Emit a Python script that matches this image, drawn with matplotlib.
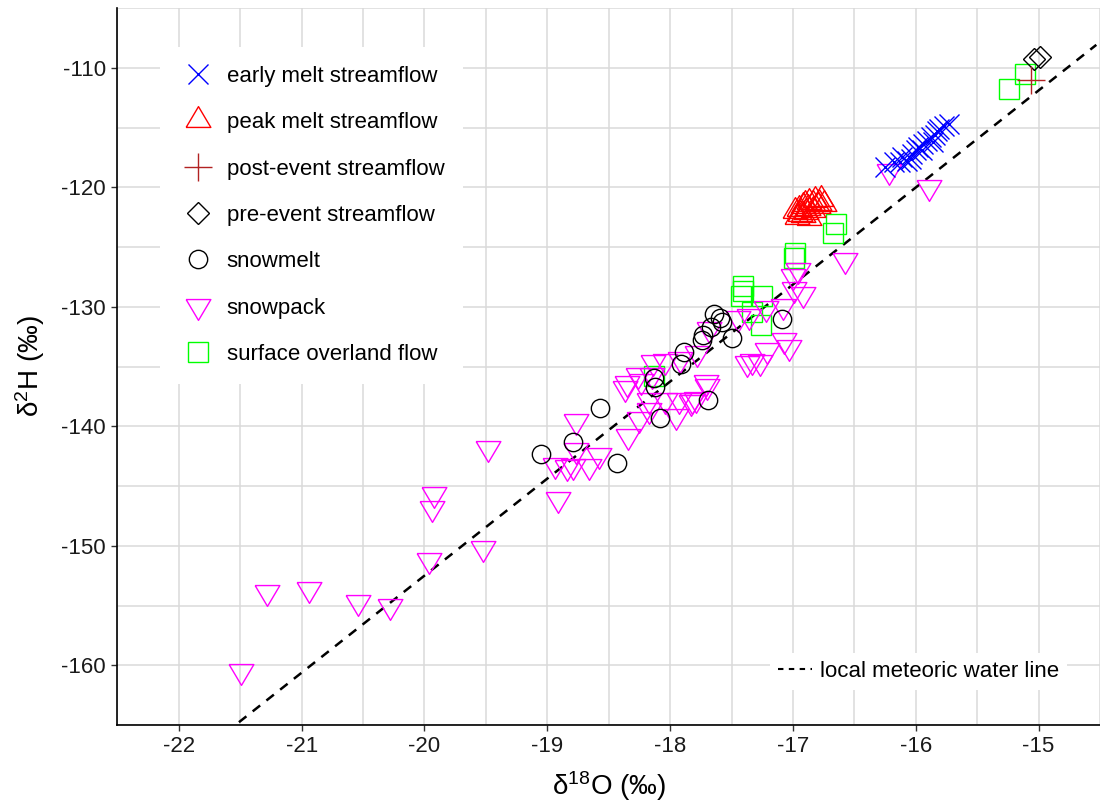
import matplotlib
matplotlib.use("Agg")
import matplotlib.pyplot as plt
from matplotlib.lines import Line2D
import numpy as np

plt.rcParams['font.family'] = ['Liberation Sans', 'DejaVu Sans']
plt.rcParams['mathtext.fontset'] = 'custom'
plt.rcParams['mathtext.rm'] = 'Liberation Sans'
plt.rcParams['mathtext.it'] = 'Liberation Sans:italic'
plt.rcParams['axes.unicode_minus'] = False

# ---- isotope data (d18O, d2H), permil ----
snowpack_x = [-15.89, -16.22, -16.58, -16.96, -17.00, -16.99, -16.92, -17.08, -17.22,
              -17.36, -17.45, -17.68, -17.07, -17.03, -17.21, -17.33, -17.37, -17.27,
              -17.71, -17.92, -17.78, -18.04, -18.14, -18.26, -18.15, -18.35, -18.24,
              -18.37, -17.70, -18.17, -18.04, -17.93, -17.82, -17.79, -18.17, -17.95,
              -17.83, -18.25, -18.34, -18.77, -18.94, -18.84, -18.79, -18.77, -18.66,
              -18.58, -18.91, -19.48, -19.52, -19.94, -19.92, -19.96, -20.28, -20.54,
              -20.94, -21.28, -21.49]
snowpack_y = [-120.0, -118.6, -126.1, -126.9, -127.4, -128.5, -128.9, -129.9, -130.1,
              -130.8, -130.9, -131.9, -132.8, -133.4, -133.6, -134.5, -134.7, -134.6,
              -136.3, -134.4, -133.9, -134.5, -134.6, -135.7, -135.75, -136.4, -136.2,
              -136.8, -136.6, -137.8, -137.8, -137.8, -137.8, -137.7, -138.6, -139.1,
              -138.0, -139.4, -140.8, -139.6, -143.2, -143.4, -143.3, -142.0, -143.3,
              -142.4, -146.1, -141.8, -150.2, -146.8, -145.7, -151.2, -155.0, -154.7,
              -153.6, -153.9, -160.45]

snowmelt_x = [-19.05, -18.79, -18.57, -18.43, -18.08, -18.13, -18.12, -17.91, -17.89,
              -17.69, -17.74, -17.73, -17.67, -17.58, -17.59, -17.64, -17.50, -17.09]
snowmelt_y = [-142.3, -141.3, -138.5, -143.1, -139.3, -136.0, -136.7, -134.8, -133.8,
              -137.8, -132.8, -132.4, -131.7, -131.3, -130.9, -130.6, -132.6, -131.0]

overland_x = [-18.13, -17.41, -17.41, -17.42, -17.25, -17.33, -17.26, -16.98, -16.99,
              -16.65, -16.67, -15.11, -15.24]
overland_y = [-135.8, -128.3, -128.7, -129.1, -129.1, -130.4, -131.5, -125.5, -125.9,
              -123.1, -123.8, -110.5, -111.8]

early_x = [-16.25, -16.18, -16.11, -16.07, -16.03, -16.00, -15.98, -15.94, -15.91,
           -15.88, -15.84, -15.81, -15.77, -15.73, -16.13, -16.04, -15.95, -15.86, -15.83]
early_y = [-118.3, -117.9, -117.5, -117.8, -117.2, -116.9, -116.6, -116.4, -116.1,
           -115.8, -115.6, -115.1, -114.9, -114.7, -117.9, -117.6, -116.9, -116.2, -115.3]

peak_x = [-16.98, -16.95, -16.92, -16.90, -16.88, -16.87, -16.84, -16.82, -16.80,
          -16.79, -16.77, -16.94, -16.89, -16.84, -16.75, -16.97, -16.87, -16.92]
peak_y = [-122.0, -121.8, -121.6, -121.4, -121.7, -121.2, -121.4, -121.1, -121.6,
          -121.3, -121.0, -122.2, -122.1, -121.9, -121.4, -122.5, -122.6, -122.3]

pre_x = [-15.04, -14.99]
pre_y = [-109.3, -109.1]

post_x = [-15.06]
post_y = [-111.0]

# local meteoric water line: d2H = slope * d18O + intercept
lmwl_slope = 8.12
lmwl_intercept = 9.9

x_ticks = [-22, -21, -20, -19, -18, -17, -16, -15]
y_ticks = [-160, -150, -140, -130, -120, -110]

# triangles centred on their centroid
tri_down = [(-0.89, 0.5), (0.89, 0.5), (0.0, -1.0), (-0.89, 0.5)]
tri_up = [(-0.89, -0.5), (0.89, -0.5), (0.0, 1.0), (-0.89, -0.5)]

MEW = 1.0
styles = [
    ("early melt streamflow", early_x, early_y,
     dict(marker='x', color='#0000ff', ms=14.0)),
    ("peak melt streamflow", peak_x, peak_y,
     dict(marker=tri_up, color='#ff0000', ms=20.0)),
    ("post-event streamflow", post_x, post_y,
     dict(marker='+', color='#b22222', ms=20.0)),
    ("pre-event streamflow", pre_x, pre_y,
     dict(marker='D', color='#000000', ms=11.0)),
    ("snowmelt", snowmelt_x, snowmelt_y,
     dict(marker='o', color='#000000', ms=13.2)),
    ("snowpack", snowpack_x, snowpack_y,
     dict(marker=tri_down, color='#ff00ff', ms=20.0)),
    ("surface overland flow", overland_x, overland_y,
     dict(marker='s', color='#00ff00', ms=13.7)),
]

fig = plt.figure(figsize=(11.0, 8.08), dpi=100)
ax = fig.add_axes([0.1064, 0.1027, 0.8936, 0.8874])

xlim = (-22.503, -14.53)
ylim = (-164.75, -105.0)
ax.set_xlim(*xlim)
ax.set_ylim(*ylim)

# grid: major and minor lines drawn alike
ax.set_xticks(x_ticks)
ax.set_yticks(y_ticks)
ax.set_xticks(np.arange(-22.5, -14.4, 0.5), minor=True)
ax.set_yticks(np.arange(-165, -104, 5), minor=True)
ax.grid(True, which='both', color='#dadada', lw=1.1, zorder=0)
ax.set_axisbelow(True)
ax.tick_params(axis='both', which='minor', length=0)
ax.tick_params(axis='both', which='major', length=4, width=1.0, color='#333333',
               labelsize=16, labelcolor='#1a1a1a', pad=4)

for s in ['top', 'right']:
    ax.spines[s].set_visible(False)
for s in ['left', 'bottom']:
    ax.spines[s].set_linewidth(1.2)
    ax.spines[s].set_color('black')

# meteoric water line
lx = np.array(xlim)
ax.plot(lx, lmwl_slope * lx + lmwl_intercept, color='black', lw=1.8,
        ls=(0, (3.8, 3.2)), zorder=2)

# samples, drawn in reverse legend order
for label, xs, ys, st in styles[::-1]:
    ax.plot(xs, ys, ls='none', marker=st['marker'], ms=st['ms'], mew=MEW,
            mec=st['color'], mfc='none', zorder=3)

ax.set_xlabel('δ$^{18}$O (‰)', fontsize=20, labelpad=9)
ax.set_ylabel('δ$^{2}$H (‰)', fontsize=20, labelpad=10)

handles = [Line2D([], [], ls='none', marker=st['marker'], ms=st['ms'], mew=MEW,
                  mec=st['color'], mfc='none') for _, _, _, st in styles]
labels = [lab for lab, _, _, _ in styles]
leg1 = ax.legend(handles, labels, loc='upper left', bbox_to_anchor=(0.0437, 0.9456),
                 fontsize=16, frameon=True, facecolor='white', edgecolor='none',
                 framealpha=1, fancybox=False, borderpad=0.85, handlelength=1.75,
                 handletextpad=0.4, labelspacing=1.14, borderaxespad=0)
ax.add_artist(leg1)

lmwl_handle = Line2D([], [], color='black', lw=1.5, ls=(0, (2.6, 2.6)))
ax.legend([lmwl_handle], ['local meteoric water line'], loc='lower left',
          bbox_to_anchor=(0.664, 0.049), fontsize=16, frameon=True,
          facecolor='white', edgecolor='none', framealpha=1, fancybox=False,
          borderpad=0.35, handlelength=1.55, handletextpad=0.35, borderaxespad=0)

fig.savefig('out.png', dpi=100)
